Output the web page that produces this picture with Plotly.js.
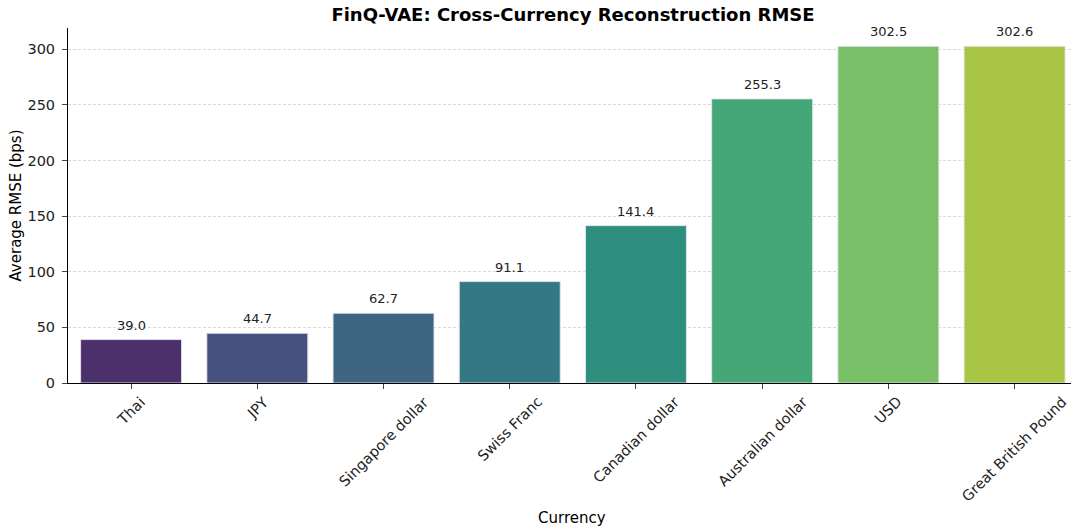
<!DOCTYPE html>
<html>
<head>
<meta charset="utf-8">
<script src="https://cdn.plot.ly/plotly-3.0.1.min.js"></script>
<style>html,body{margin:0;padding:0;background:#fff;}#chart{width:1071px;height:531px;}</style>
</head>
<body>
<div id="chart"></div>
<script>
const currencies = ["Thai", "JPY", "Singapore dollar", "Swiss Franc", "Canadian dollar", "Australian dollar", "USD", "Great British Pound"];
const rmse = [39.0, 44.7, 62.7, 91.1, 141.4, 255.3, 302.5, 302.6];
const barColors = ["#4b306c", "#47517d", "#3e6581", "#337882", "#2e8f7e", "#45a778", "#78bf68", "#a8c543"];
const yTicks = [0, 50, 100, 150, 200, 250, 300];

const font = "DejaVu Sans, sans-serif";
const trace = {
  type: "bar",
  x: currencies,
  y: rmse,
  width: 0.8,
  marker: {color: barColors, line: {color: "rgba(230,230,240,0.9)", width: 1}},
  hoverinfo: "x+y"
};

const valueLabels = currencies.map((c, i) => ({
  x: c, y: rmse[i], xref: "x", yref: "y",
  text: rmse[i].toFixed(1), showarrow: false,
  xanchor: "center", yanchor: "bottom", yshift: 5,
  font: {family: font, size: 13, color: "#222"}
}));
const tickLabels = currencies.map(c => ({
  x: c, y: 0, xref: "x", yref: "paper",
  text: c, showarrow: false, textangle: -45,
  xanchor: "center", yanchor: "top", yshift: -8,
  font: {family: font, size: 14.5, color: "#222"}
}));
const xTitle = {
  x: 0.502, y: 0, xref: "paper", yref: "paper", yshift: -135,
  text: "Currency", showarrow: false, xanchor: "center", yanchor: "middle",
  font: {family: font, size: 15, color: "#000"}
};

const layout = {
  width: 1071, height: 531,
  margin: {l: 68, r: 0, t: 28, b: 148},
  paper_bgcolor: "#fff", plot_bgcolor: "#fff",
  title: {text: "<b>FinQ-VAE: Cross-Currency Reconstruction RMSE</b>", font: {family: font, size: 18, color: "#000"}, x: 0.535, xanchor: "center", y: 0.985, yanchor: "top"},
  xaxis: {
    type: "category", range: [-0.5, 7.447],
    showline: true, linecolor: "#000", linewidth: 1,
    ticks: "outside", ticklen: 5, tickcolor: "#444",
    showticklabels: false, showgrid: false
  },
  yaxis: {
    range: [0, 319], tickvals: yTicks,
    showline: true, linecolor: "#000", linewidth: 1,
    ticks: "outside", ticklen: 5, tickcolor: "#444",
    ticklabelstandoff: 4,
    tickfont: {family: font, size: 14.5, color: "#222"},
    showgrid: true, gridcolor: "#d9d9d9", griddash: "3px,2px", gridwidth: 1,
    zeroline: false,
    title: {text: "Average RMSE (bps)", font: {family: font, size: 15, color: "#000"}, standoff: 2}
  },
  annotations: valueLabels.concat(tickLabels, [xTitle]),
  showlegend: false
};
Plotly.newPlot("chart", [trace], layout, {displayModeBar: false, staticPlot: true});
</script>
</body>
</html>
